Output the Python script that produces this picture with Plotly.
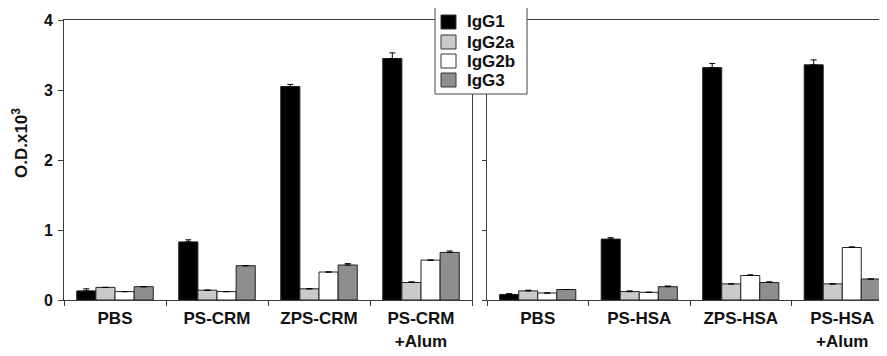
import plotly.graph_objects as go

categories_left = ["PBS", "PS-CRM", "ZPS-CRM", "PS-CRM<br>+Alum"]
categories_right = ["PBS", "PS-HSA", "ZPS-HSA", "PS-HSA<br>+Alum"]
series_names = ["IgG1", "IgG2a", "IgG2b", "IgG3"]
series_colors = ["#000000", "#cacaca", "#ffffff", "#8e8e8e"]

igg1_left = [0.13, 0.83, 3.05, 3.45]
igg2a_left = [0.18, 0.14, 0.16, 0.25]
igg2b_left = [0.12, 0.12, 0.40, 0.57]
igg3_left = [0.19, 0.49, 0.50, 0.68]
igg1_left_err = [0.03, 0.03, 0.03, 0.08]
igg2a_left_err = [0.0, 0.0, 0.0, 0.01]
igg2b_left_err = [0.0, 0.0, 0.0, 0.0]
igg3_left_err = [0.0, 0.0, 0.02, 0.02]

igg1_right = [0.08, 0.87, 3.32, 3.36]
igg2a_right = [0.13, 0.12, 0.23, 0.23]
igg2b_right = [0.10, 0.11, 0.35, 0.75]
igg3_right = [0.15, 0.19, 0.25, 0.30]
igg1_right_err = [0.01, 0.02, 0.06, 0.07]
igg2a_right_err = [0.01, 0.01, 0.0, 0.0]
igg2b_right_err = [0.0, 0.0, 0.01, 0.01]
igg3_right_err = [0.0, 0.01, 0.01, 0.0]

y_ticks = [0, 1, 2, 3, 4]

left_vals = [igg1_left, igg2a_left, igg2b_left, igg3_left]
left_errs = [igg1_left_err, igg2a_left_err, igg2b_left_err, igg3_left_err]
right_vals = [igg1_right, igg2a_right, igg2b_right, igg3_right]
right_errs = [igg1_right_err, igg2a_right_err, igg2b_right_err, igg3_right_err]

FONT = "Arial, Liberation Sans, sans-serif"
OFF = 8  # page body margin offsets the figure on screen
W, H = 887, 356
ML = 64 - OFF
MT = 20 - OFF
MB = H - (300 - OFF)
MR = W - (893 - OFF)
PW = W - ML - MR
PH = H - MT - MB


def px_x(sx):
    return (sx - OFF - ML) / PW


def px_y(sy):
    return (H - MB - (sy - OFF)) / PH


fig = go.Figure()


def add_panel(cats, vals, errs, xa, ya):
    for name, color, v, e in zip(series_names, series_colors, vals, errs):
        fig.add_trace(go.Bar(
            x=cats, y=v, name=name, xaxis=xa, yaxis=ya,
            marker=dict(color=color, line=dict(color="#222222", width=1)),
            error_y=dict(type="data", symmetric=False, array=e,
                         arrayminus=[0] * len(e), color="#000000",
                         thickness=1, width=3),
            showlegend=False,
        ))


add_panel(categories_left, left_vals, left_errs, "x", "y")
add_panel(categories_right, right_vals, right_errs, "x2", "y2")

d1_end = px_x(472)
d2_start = px_x(487)

axis_line = dict(showline=True, linecolor="#3a3a3a", linewidth=1, showgrid=False,
                 zeroline=False, automargin=False)
xtick_font = dict(family=FONT, size=17, color="#111111", weight="bold")

# manual legend (box, swatches, labels)
shapes = [dict(type="rect", xref="paper", yref="paper",
               x0=px_x(435), x1=px_x(527), y0=px_y(94), y1=px_y(6),
               fillcolor="white", line=dict(color="#444444", width=1), layer="above")]
annotations = []
row_centers = [22, 42, 61, 80]
for name, color, cy in zip(series_names, series_colors, row_centers):
    shapes.append(dict(type="rect", xref="paper", yref="paper",
                       x0=px_x(441), x1=px_x(456), y0=px_y(cy + 7), y1=px_y(cy - 7),
                       fillcolor=color, line=dict(color="#333333", width=1), layer="above"))
    annotations.append(dict(text=name, xref="paper", yref="paper", x=px_x(465), y=px_y(cy),
                            xanchor="left", yanchor="middle", showarrow=False,
                            font=dict(family=FONT, size=17, color="#111111", weight="bold")))

annotations.append(dict(text="O.D.x10<sup>3</sup>", xref="paper", yref="paper",
                        x=px_x(20), y=px_y(143),
                        textangle=-90, showarrow=False, xanchor="center", yanchor="middle",
                        font=dict(family=FONT, size=17, color="#111111", weight="bold")))

fig.update_layout(
    width=W, height=H,
    margin=dict(l=ML, r=MR, t=MT, b=MB, autoexpand=False),
    plot_bgcolor="white", paper_bgcolor="white",
    barmode="group", bargap=0.25, bargroupgap=0,
    xaxis=dict(domain=[0, d1_end], range=[-0.5, 3.5], mirror=True,
               ticks="outside", ticklen=5, tickcolor="#3a3a3a", tickson="boundaries",
               tickfont=xtick_font, ticklabelstandoff=3, **axis_line),
    yaxis=dict(range=[0, 4], tickvals=y_ticks, mirror=True, ticks="outside", ticklen=5,
               tickcolor="#3a3a3a", ticklabelstandoff=2,
               tickfont=dict(family=FONT, size=16, color="#111111", weight="bold"),
               **axis_line),
    xaxis2=dict(domain=[d2_start, 1], range=[-0.5, 3.5], mirror=True,
                anchor="y2", ticks="outside", ticklen=5, tickcolor="#3a3a3a",
                tickson="boundaries", tickfont=xtick_font, ticklabelstandoff=3, **axis_line),
    yaxis2=dict(range=[0, 4], tickvals=y_ticks, anchor="x2", ticks="outside", ticklen=4,
                tickcolor="#3a3a3a", showticklabels=False, mirror=False, **axis_line),
    showlegend=False,
    shapes=shapes,
    annotations=annotations,
)

fig.write_html("out.html")
